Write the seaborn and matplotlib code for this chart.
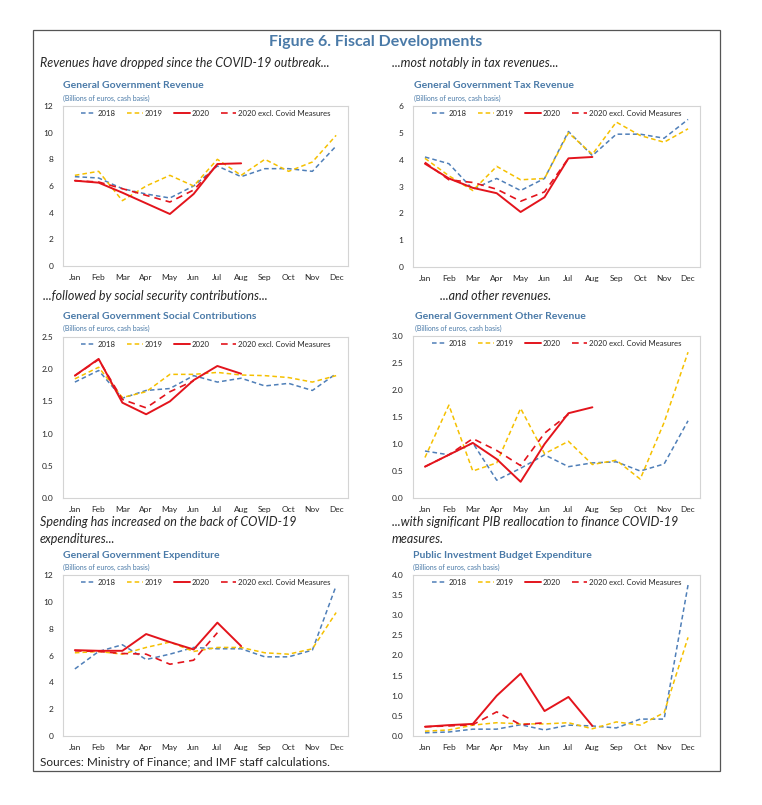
import numpy as np
import pandas as pd
import seaborn as sns
import matplotlib.pyplot as plt
from matplotlib.lines import Line2D
from matplotlib.patches import Rectangle

# DATA ###############################################
months = ['Jan', 'Feb', 'Mar', 'Apr', 'May', 'Jun', 'Jul', 'Aug', 'Sep', 'Oct', 'Nov', 'Dec']
series_names = ['2018', '2019', '2020', '2020 excl. Covid Measures']

# General Government Revenue
rev_2018 = [6.7, 6.6, 5.8, 5.4, 5.1, 6.0, 7.5, 6.7, 7.3, 7.3, 7.1, 9.0]
rev_2019 = [6.8, 7.1, 4.9, 6.0, 6.8, 6.0, 8.0, 6.8, 8.0, 7.1, 7.8, 9.8]
rev_2020 = [6.4, 6.25, 5.5, 4.7, 3.9, 5.4, 7.65, 7.7]
rev_excl = [6.4, 6.3, 5.8, 5.3, 4.8, 5.7, 7.6]

# General Government Tax Revenue
tax_2018 = [4.1, 3.85, 2.9, 3.3, 2.85, 3.3, 5.05, 4.15, 4.95, 4.95, 4.8, 5.5]
tax_2019 = [4.05, 3.4, 2.85, 3.75, 3.25, 3.3, 5.0, 4.2, 5.4, 4.9, 4.65, 5.15]
tax_2020 = [3.85, 3.3, 2.95, 2.75, 2.05, 2.6, 4.05, 4.1]
tax_excl = [3.9, 3.25, 3.15, 2.9, 2.45, 2.8, 4.05]

# General Government Social Contributions
soc_2018 = [1.8, 1.98, 1.55, 1.67, 1.7, 1.9, 1.8, 1.86, 1.74, 1.78, 1.67, 1.93]
soc_2019 = [1.85, 2.03, 1.56, 1.65, 1.92, 1.92, 1.95, 1.91, 1.9, 1.87, 1.8, 1.9]
soc_2020 = [1.9, 2.16, 1.48, 1.3, 1.5, 1.83, 2.05, 1.93]
soc_excl = [1.9, 2.15, 1.53, 1.4, 1.65, 1.82]

# General Government Other Revenue
oth_2018 = [0.87, 0.8, 1.02, 0.33, 0.55, 0.8, 0.58, 0.65, 0.67, 0.5, 0.63, 1.43]
oth_2019 = [0.75, 1.72, 0.5, 0.65, 1.66, 0.82, 1.05, 0.62, 0.7, 0.35, 1.4, 2.7]
oth_2020 = [0.58, 0.8, 1.02, 0.72, 0.3, 1.0, 1.57, 1.68]
oth_excl = [0.58, 0.8, 1.1, 0.88, 0.6, 1.2, 1.55]

# General Government Expenditure
exp_2018 = [5.0, 6.3, 6.8, 5.7, 6.1, 6.6, 6.5, 6.5, 5.9, 5.9, 6.4, 11.2]
exp_2019 = [6.2, 6.3, 6.1, 6.6, 7.0, 6.3, 6.6, 6.6, 6.2, 6.1, 6.5, 9.2]
exp_2020 = [6.4, 6.35, 6.35, 7.6, 7.0, 6.45, 8.45, 6.7]
exp_excl = [6.35, 6.3, 6.15, 6.1, 5.35, 5.65, 7.7]

# Public Investment Budget Expenditure
pib_2018 = [0.08, 0.1, 0.17, 0.17, 0.28, 0.15, 0.27, 0.25, 0.2, 0.42, 0.42, 3.75]
pib_2019 = [0.12, 0.15, 0.27, 0.33, 0.3, 0.3, 0.33, 0.18, 0.35, 0.27, 0.58, 2.45]
pib_2020 = [0.23, 0.27, 0.3, 1.0, 1.55, 0.62, 0.97, 0.25]
pib_excl = [0.23, 0.25, 0.28, 0.6, 0.28, 0.33]

# STYLE ##############################################
sns.set_style('white')
plt.rcParams['font.family'] = ['Lato', 'DejaVu Sans']

W, H = 762, 805
title_blue = '#4a7aa8'
colors = {'2018': '#4f7fb8', '2019': '#f5c000', '2020': '#e3141c', '2020 excl. Covid Measures': '#e3141c'}
styles = {'2018': (0, (3, 2)), '2019': (0, (3, 2)), '2020': '-', '2020 excl. Covid Measures': (0, (4, 3))}
widths = {'2018': 1.1, '2019': 1.1, '2020': 1.4, '2020 excl. Covid Measures': 1.2}

fig = plt.figure(figsize=(W / 100, H / 100), dpi=100)

def px_axes(x0, y0, x1, y1):
    # pixel box (top-left origin) -> figure axes
    return fig.add_axes([x0 / W, 1 - y1 / H, (x1 - x0) / W, (y1 - y0) / H])

def px_text(x, y, s, **kw):
    fig.text(x / W, 1 - y / H, s, **kw)

def panel(box, data, ymax, ystep, fmt, title, subtitle, tpos):
    ax = px_axes(*box)
    for name, vals in zip(series_names, data):
        df = pd.DataFrame({'m': np.arange(len(vals)), 'v': vals})
        sns.lineplot(data=df, x='m', y='v', ax=ax, color=colors[name],
                     linestyle=styles[name], linewidth=widths[name])
    ax.set_xlim(-0.5, 11.5)
    ax.set_ylim(0, ymax)
    ax.set_xticks(range(12))
    ax.set_xticklabels(months)
    ax.set_xticks(np.arange(0.5, 11, 1), minor=True)
    yt = np.arange(0, ymax + ystep / 2, ystep)
    ax.set_yticks(yt)
    ax.set_yticklabels([fmt.format(v) for v in yt])
    ax.tick_params(axis='both', which='major', length=0, labelsize=6, pad=6)
    ax.tick_params(axis='y', pad=7)
    ax.tick_params(axis='x', which='minor', length=3, direction='in', color='#c8c8c8')
    ax.set_xlabel('')
    ax.set_ylabel('')
    for sp in ax.spines.values():
        sp.set_color('#d4d4d4')
        sp.set_linewidth(0.8)
    handles = [Line2D([], [], color=colors[n], linestyle=styles[n], linewidth=widths[n]) for n in series_names]
    ax.legend(handles, series_names, loc='upper center', ncol=4, frameon=False,
              fontsize=5.6, handlelength=2.0, handletextpad=0.2, columnspacing=1.5,
              borderaxespad=0.1, bbox_to_anchor=(0.5, 1.0))
    px_text(tpos[0], tpos[1], title, fontsize=7.5, fontweight='bold', color=title_blue, va='center')
    px_text(tpos[0], tpos[1] + 12, '(Billions of euros, cash basis)', fontsize=5, color=title_blue, va='center')
    px_text(subtitle[0], subtitle[1], subtitle[2], fontsize=9, style='italic', va='top', linespacing=1.5)
    return ax

panel((63, 106, 348, 266), [rev_2018, rev_2019, rev_2020, rev_excl], 12, 2, '{:.0f}',
      'General Government Revenue',
      (40, 57, 'Revenues have dropped since the COVID-19 outbreak...'), (63, 86))
panel((413, 106, 700, 267), [tax_2018, tax_2019, tax_2020, tax_excl], 6, 1, '{:.0f}',
      'General Government Tax Revenue',
      (392, 57, '...most notably in tax revenues...'), (414, 86))
panel((63, 337, 348, 498), [soc_2018, soc_2019, soc_2020, soc_excl], 2.5, 0.5, '{:.1f}',
      'General Government Social Contributions',
      (43, 290, '...followed by social security contributions...'), (63, 316))
panel((413, 336, 700, 498), [oth_2018, oth_2019, oth_2020, oth_excl], 3.0, 0.5, '{:.1f}',
      'General Government Other Revenue',
      (440, 290, '...and other revenues.'), (415, 316))
panel((63, 575, 348, 736), [exp_2018, exp_2019, exp_2020, exp_excl], 12, 2, '{:.0f}',
      'General Government Expenditure',
      (40, 516, 'Spending has increased on the back of COVID-19\nexpenditures...'), (63, 555))
panel((413, 575, 700, 736), [pib_2018, pib_2019, pib_2020, pib_excl], 4.0, 0.5, '{:.1f}',
      'Public Investment Budget Expenditure',
      (392, 516, '...with significant PIB reallocation to finance COVID-19\nmeasures.'), (413, 555))

px_text(376, 42, 'Figure 6. Fiscal Developments', fontsize=11.5, fontweight='bold',
        color=title_blue, ha='center', va='center')
px_text(40, 762, 'Sources: Ministry of Finance; and IMF staff calculations.', fontsize=8.5, va='center')

fig.add_artist(Rectangle((33 / W, 1 - 771 / H), (720 - 33) / W, (771 - 30) / H,
                         transform=fig.transFigure, fill=False, edgecolor='#555555', linewidth=0.9))

plt.savefig('out.png', dpi=100)
